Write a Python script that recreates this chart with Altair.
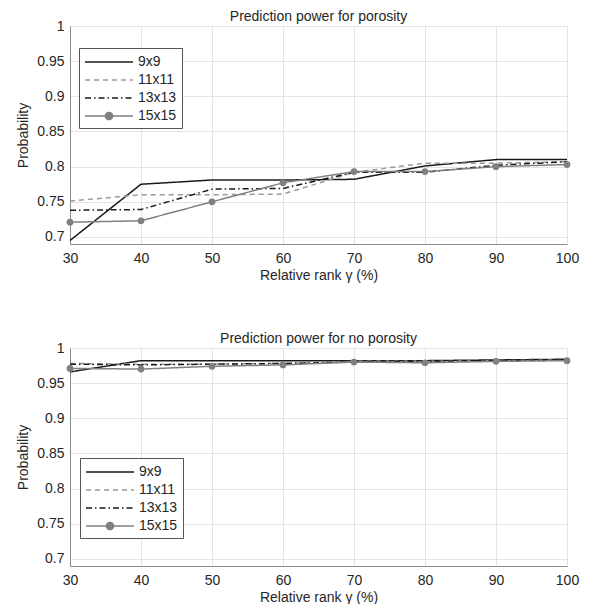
import altair as alt
import pandas as pd

x_vals = [30, 40, 50, 60, 70, 80, 90, 100]
series = ["9x9", "11x11", "13x13", "15x15"]

# Prediction power for porosity
top_9x9 = [0.695, 0.775, 0.781, 0.781, 0.782, 0.801, 0.810, 0.810]
top_11x11 = [0.751, 0.760, 0.760, 0.761, 0.792, 0.805, 0.805, 0.807]
top_13x13 = [0.738, 0.739, 0.768, 0.769, 0.792, 0.792, 0.802, 0.807]
top_15x15 = [0.721, 0.723, 0.750, 0.777, 0.793, 0.793, 0.800, 0.803]

# Prediction power for no porosity
bot_9x9 = [0.966, 0.982, 0.982, 0.982, 0.982, 0.982, 0.983, 0.984]
bot_11x11 = [0.978, 0.977, 0.977, 0.978, 0.981, 0.981, 0.982, 0.983]
bot_13x13 = [0.977, 0.976, 0.977, 0.978, 0.980, 0.981, 0.982, 0.983]
bot_15x15 = [0.971, 0.970, 0.974, 0.976, 0.980, 0.979, 0.981, 0.982]

y_ticks = [0.7, 0.75, 0.8, 0.85, 0.9, 0.95, 1.0]

colors = ["#1a1a1a", "#9a9a9a", "#1a1a1a", "#808080"]
dashes = [[1, 0], [5, 4], [6, 3, 1.5, 3], [1, 0]]
shapes = [
    "M-1,0H5",
    "M-1,0H5",
    "M-1,0H5",
    "M-1,0H5M1.55,0A0.45,0.45 0 1,0 2.45,0A0.45,0.45 0 1,0 1.55,0Z",
]

FONT = "Liberation Sans"


def make_df(vals):
    rows = []
    for s, v in zip(series, vals):
        for xv, yv in zip(x_vals, v):
            rows.append({"rank": xv, "prob": yv, "series": s})
    return pd.DataFrame(rows)


def panel(df, title, lx, ly):
    base = alt.Chart(df)
    xenc = alt.X(
        "rank:Q",
        scale=alt.Scale(domain=[30, 100], nice=False, zero=False),
        axis=alt.Axis(values=x_vals, title="Relative rank \u03b3 (%)"),
    )
    yenc = alt.Y(
        "prob:Q",
        scale=alt.Scale(domain=[0.69, 1.0], nice=False, zero=False),
        axis=alt.Axis(values=y_ticks, format=".2~f", title="Probability"),
    )
    lines = base.mark_line(strokeWidth=1.5).encode(
        x=xenc,
        y=yenc,
        color=alt.Color("series:N", scale=alt.Scale(domain=series, range=colors), legend=None),
        strokeDash=alt.StrokeDash("series:N", scale=alt.Scale(domain=series, range=dashes), legend=None),
        order=alt.Order("rank:Q"),
    )
    pts = base.transform_filter(alt.datum.series == "15x15").mark_point(
        filled=True, size=45, opacity=1, color="#808080"
    ).encode(x=xenc, y=yenc)
    leg = alt.Legend(
        orient="none",
        legendX=lx,
        legendY=ly,
        title=None,
        symbolSize=256,
        symbolStrokeWidth=1.5,
        symbolFillColor="#808080",
        labelFontSize=14,
        labelFont=FONT,
        labelColor="#262626",
        labelOffset=36,
        strokeColor="#555555",
        fillColor="white",
        padding=5,
        rowPadding=2,
    )
    legend_layer = base.transform_filter("false").mark_point(
        filled=False, strokeWidth=1.5, opacity=1, fill="#808080"
    ).encode(
        x=xenc,
        y=yenc,
        color=alt.Color("series:N", scale=alt.Scale(domain=series, range=colors), legend=leg),
        strokeDash=alt.StrokeDash("series:N", scale=alt.Scale(domain=series, range=dashes), legend=leg),
        shape=alt.Shape("series:N", scale=alt.Scale(domain=series, range=shapes), legend=leg),
    )
    return (
        alt.layer(lines, pts, legend_layer)
        .resolve_scale(color="independent", strokeDash="independent", shape="independent")
        .properties(
            width=497,
            height=218,
            title=alt.TitleParams(title, fontSize=14, fontWeight="normal", font=FONT, color="#262626", offset=-5),
        )
    )


top = panel(make_df([top_9x9, top_11x11, top_13x13, top_15x15]), "Prediction power for porosity", 9, 22)
bot = panel(make_df([bot_9x9, bot_11x11, bot_13x13, bot_15x15]), "Prediction power for no porosity", 10, 110)

chart = (
    alt.vconcat(top, bot, spacing=50)
    .properties(padding={"left": 8, "top": 2, "right": 5, "bottom": 0})
    .configure_view(stroke=None)
    .configure_axis(
        labelFont=FONT,
        titleFont=FONT,
        labelFontSize=14,
        titleFontSize=14,
        titleFontWeight="normal",
        labelColor="#262626",
        titleColor="#262626",
        domainColor="#8c8c8c",
        gridColor="#e3e3e3",
        tickSize=0,
        labelPadding=6,
        titlePadding=6,
        labelFlush=False,
    )
    .configure_axisX(labelPadding=7, titlePadding=3)
)

chart.save("out.html", embed_options={"renderer": "svg", "actions": False})
